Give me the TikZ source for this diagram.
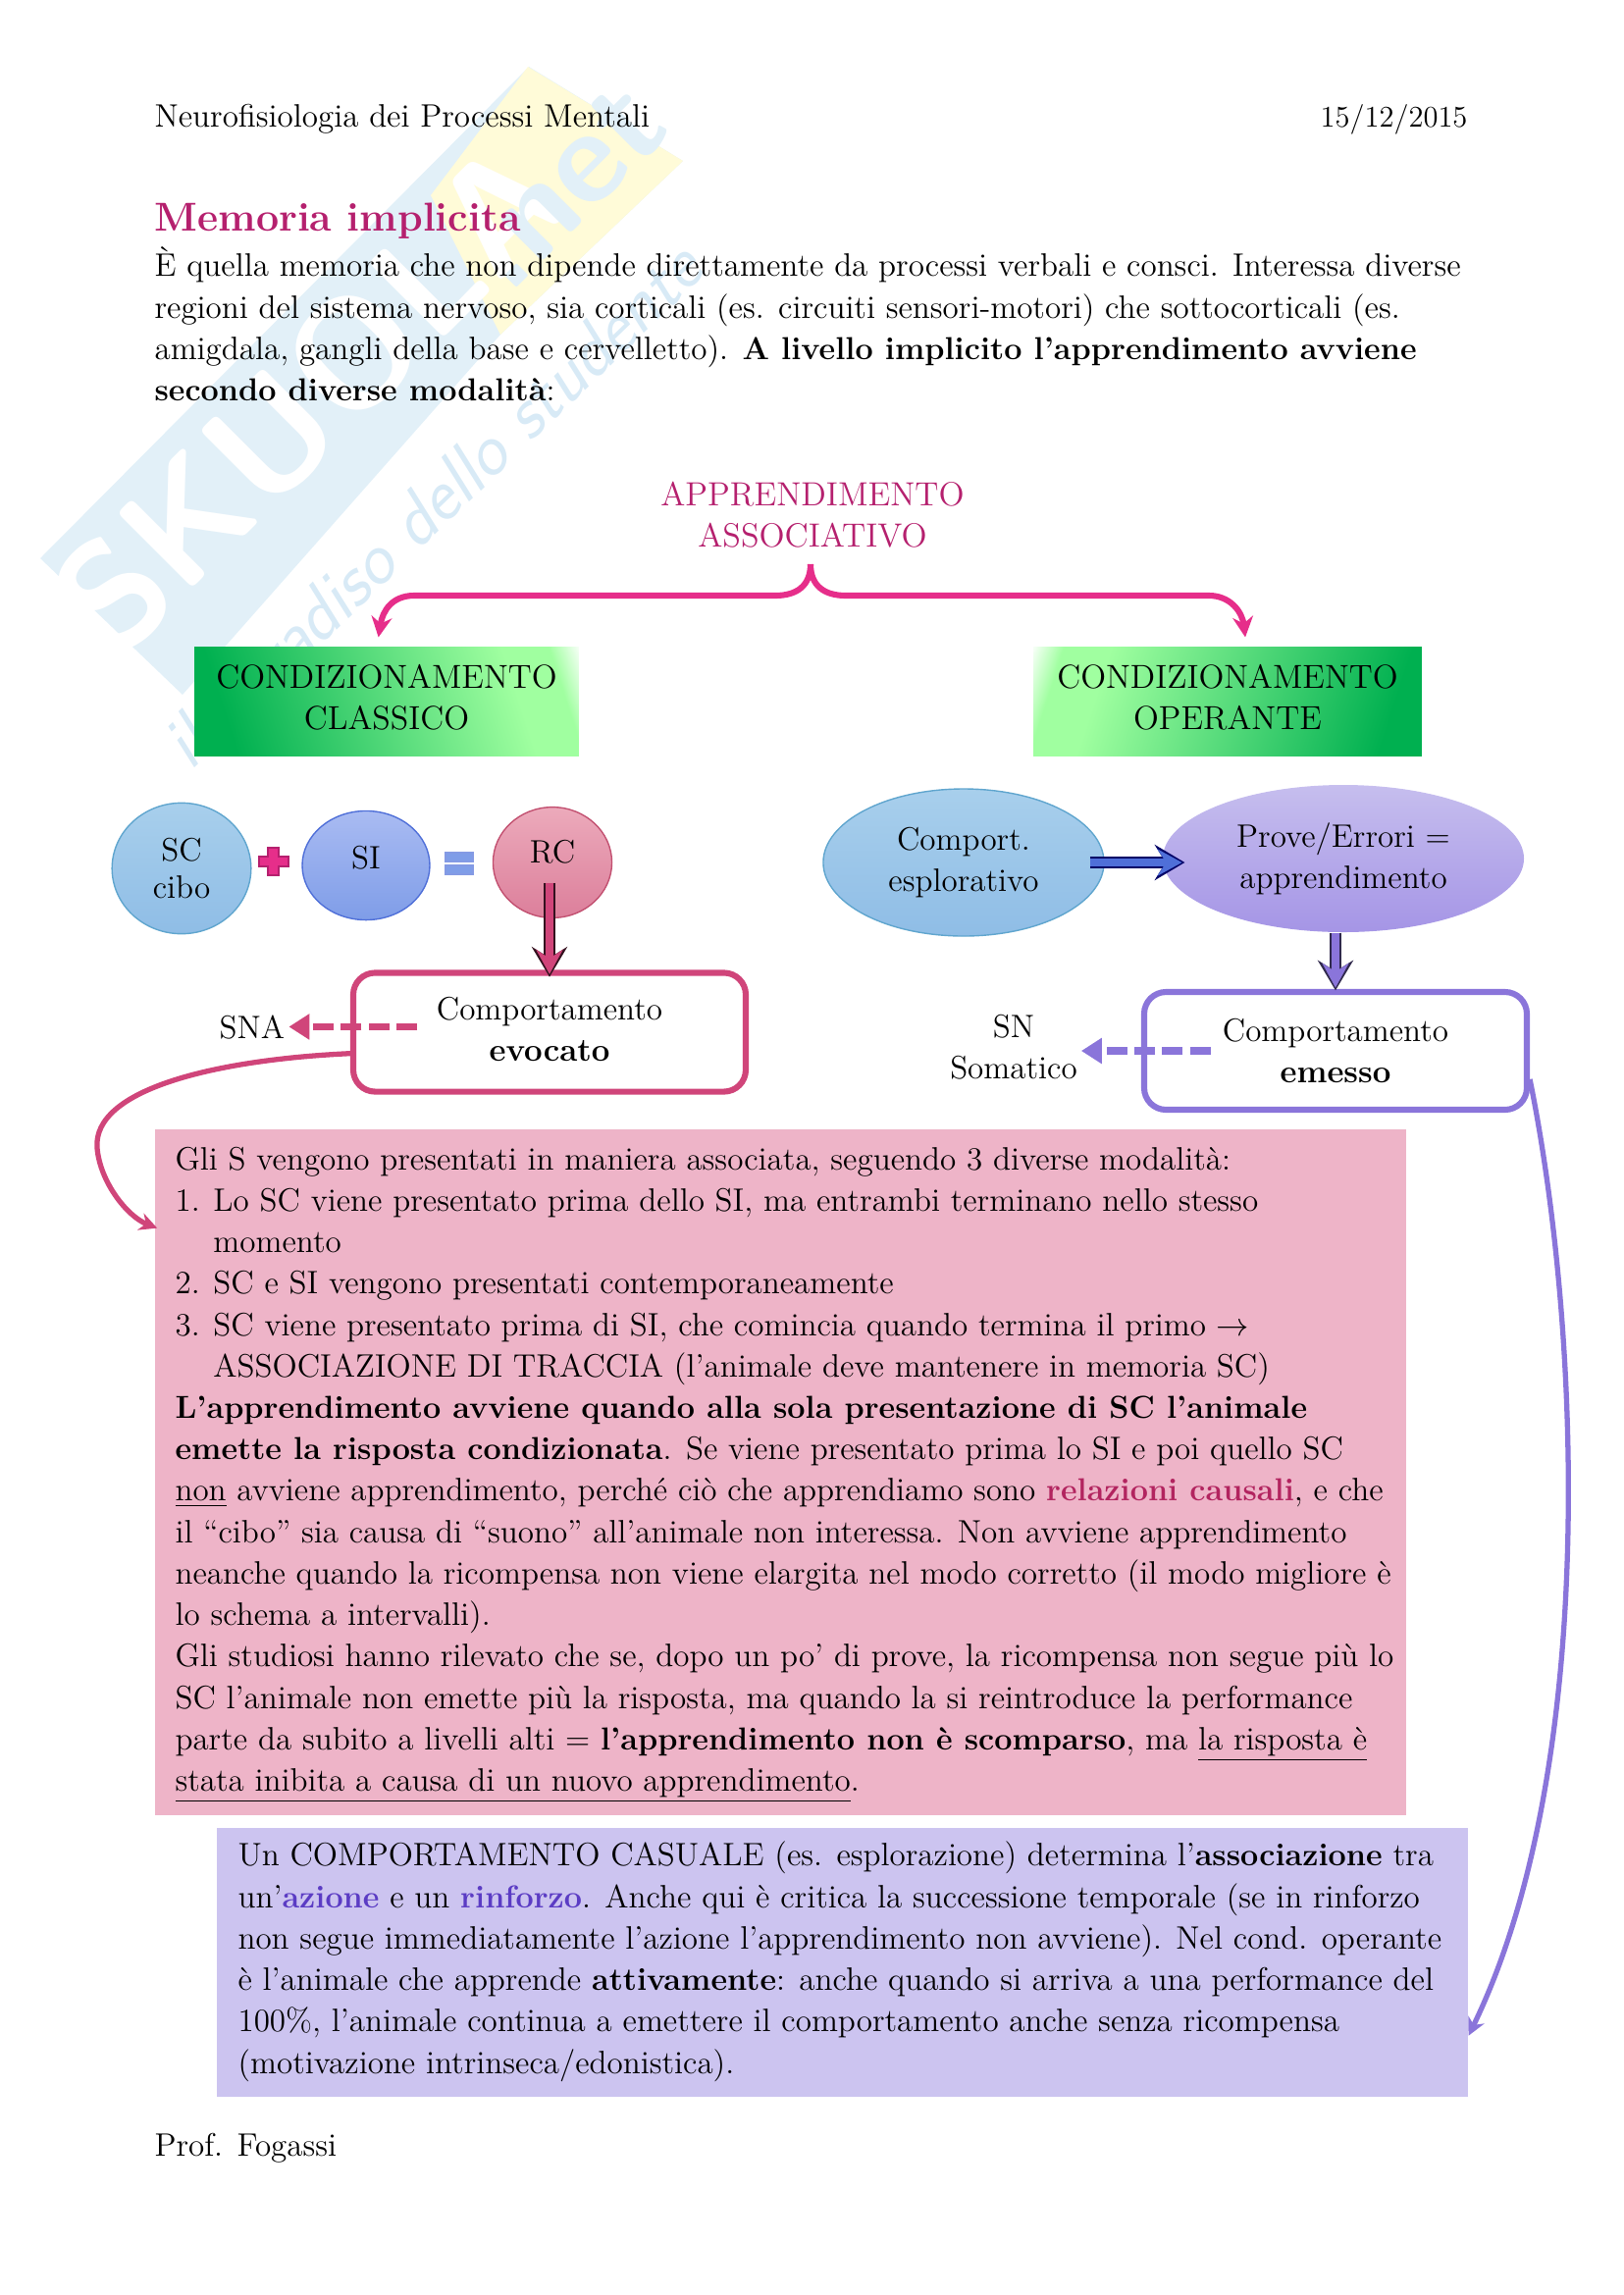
\documentclass[tikz,border=0pt]{standalone}
\usetikzlibrary{arrows.meta,shapes.geometric}

\definecolor{magtxt}{HTML}{B5206E}
\definecolor{bracecol}{HTML}{E62E8A}
\definecolor{rosecol}{HTML}{D0457A}
\definecolor{violetcol}{HTML}{8A75DA}
\definecolor{pinkfill}{HTML}{EEB4C8}
\definecolor{lilacfill}{HTML}{CCC4F0}
\definecolor{causecol}{HTML}{B2245F}
\definecolor{rinfcol}{HTML}{5B3CC4}
\definecolor{wmblue}{HTML}{E2F0F8}
\definecolor{wmtag}{HTML}{D8EAF6}
\definecolor{wmyellow}{HTML}{FFFBD8}
\definecolor{gdark}{HTML}{00B050}
\definecolor{glight}{HTML}{A0FFA0}
\definecolor{skytop}{HTML}{A8CFEC}
\definecolor{skybot}{HTML}{8FBDE6}
\definecolor{skyline}{HTML}{5FA5CE}
\definecolor{sitop}{HTML}{A9BBF2}
\definecolor{sibot}{HTML}{7F9DE8}
\definecolor{siline}{HTML}{4F6FD8}
\definecolor{rctop}{HTML}{ECAABB}
\definecolor{rcbot}{HTML}{DC7F9B}
\definecolor{rcline}{HTML}{C25070}
\definecolor{provetop}{HTML}{C6BEEE}
\definecolor{provebot}{HTML}{A595E6}

\pgfdeclarehorizontalshading{greenfade}{100bp}{color(0bp)=(gdark); color(25bp)=(gdark); color(70bp)=(glight); color(77bp)=(glight); color(82bp)=(white); color(100bp)=(white)}
\pgfdeclarehorizontalshading{greenfaderev}{100bp}{color(0bp)=(white); color(18bp)=(white); color(23bp)=(glight); color(30bp)=(glight); color(75bp)=(gdark); color(100bp)=(gdark)}

\newcommand{\bodyfont}{\fontsize{11.9}{15.2}\selectfont}
\newcommand{\bt}[1]{{\fontsize{11.65}{15.2}\selectfont\bfseries #1}}

\begin{document}
\begin{tikzpicture}[
  x=0.36pt, y=-0.36pt,
  every node/.style={font=\bodyfont},
  line/.style={anchor=base west, inner sep=0pt},
  block/.style={anchor=base west, inner sep=0pt, align=left},
  greenbox/.style={rectangle, inner sep=0pt, align=center, font=\fontsize{12.2}{15.2}\selectfont, text depth=3.2pt, minimum width=141pt, minimum height=39.8pt},
  blob/.style={ellipse, inner sep=0pt, align=center, line width=0.5pt},
  outcome/.style={rectangle, rounded corners=8pt, line width=2.2pt, fill=white, align=center, inner sep=0pt},
  bracearr/.style={draw=bracecol, line width=2.2pt, -{Stealth[length=7.5pt,width=7.5pt]}},
  dasharr/.style={line width=2.6pt, dash pattern=on 7.6pt off 2.6pt, -{Triangle[length=7.5pt,width=9pt]}},
  curvearr/.style={line width=1.9pt, -{Stealth[length=6.5pt,width=6.5pt]}},
  blockout/.style={line width=4.4pt, -{Stealth[length=11pt,width=13pt,inset=4pt]}},
  blockin/.style={line width=2.8pt, shorten >=1pt, -{Stealth[length=9pt,width=9.8pt,inset=3.2pt]}}
]
\useasboundingbox (0,0) rectangle (1654,2339);

% watermark
\fill[wmblue] (41,569) -- (539,68) -- (696,164) -- (510,341) -- (186,708) -- cycle;
\fill[wmyellow] (538,68) -- (696,164) -- (510,341) -- (439,199) -- cycle;
\node[rotate=45, text=white, inner sep=0pt] (wmname) at (315,405) {\fontsize{56}{56}\selectfont\sffamily\bfseries SKUOLA};
\node[rotate=45, text=wmblue, inner sep=0pt] (wmnet) at (575,190) {\fontsize{48}{48}\selectfont\sffamily\bfseries .net};
\node[rotate=44, text=wmtag, inner sep=0pt] (wmlabel) at (444,519) {\fontsize{27}{27}\selectfont\sffamily\itshape il paradiso dello studente};

% page text
\node[line] (head) at (157,129) {Neurofisiologia dei Processi Mentali};
\node[line, anchor=base east] (date) at (1496,129) {\fontsize{11}{15.2}\selectfont 15/12/2015};
\node[line, text=magtxt] (title) at (157,235) {\fontsize{14.8}{16}\selectfont\bfseries Memoria implicita};
\node[block] (intro) at (157,408.5) {È quella memoria che non dipende direttamente da processi verbali e consci. Interessa diverse\\
regioni del sistema nervoso, sia corticali (es. circuiti sensori-motori) che sottocorticali (es.\\
amigdala, gangli della base e cervelletto). \bt{A livello implicito l’apprendimento avviene}\\
\bt{secondo diverse modalità}:};
\node[line] (prof) at (157,2197) {Prof. Fogassi};

% top of the scheme
\node[align=center, text=magtxt, inner sep=0pt, font=\fontsize{12.3}{15.2}\selectfont] (appr) at (828,525) {APPRENDIMENTO\\ASSOCIATIVO};
\node[greenbox, shading=greenfade, shading angle=18] (classico) at (394,715) {CONDIZIONAMENTO\\CLASSICO};
\node[greenbox, shading=greenfaderev, shading angle=-18, minimum width=142.5pt] (operante) at (1251,715) {CONDIZIONAMENTO\\OPERANTE};
\coordinate (cusp) at (826,575);
\draw[bracearr] (cusp) .. controls (826,597) and (812,607) .. (790,607) -- (422,607) .. controls (400,607) and (390,622) .. ([xshift=-3pt,yshift=3.5pt]classico.north);
\draw[bracearr] (cusp) .. controls (826,597) and (840,607) .. (862,607) -- (1232,607) .. controls (1254,607) and (1266,624) .. ([xshift=6.5pt,yshift=3.5pt]operante.north);

% left branch
\node[blob, draw=skyline, top color=skytop, bottom color=skybot, minimum width=51pt, minimum height=48pt] (sc) at (185,885) {SC\\[-1.6pt]cibo};
\node[blob, draw=siline, top color=sitop, bottom color=sibot, text depth=6pt, minimum width=46.8pt, minimum height=40pt] (si) at (373,882) {SI};
\node[blob, draw=rcline, top color=rctop, bottom color=rcbot, text depth=8pt, minimum width=43.6pt, minimum height=40.6pt] (rc) at (563,879) {RC};
\fill[draw=magtxt, fill=bracecol] (273,864) -- (284,864) -- (284,873) -- (294,873) -- (294,883) -- (284,883) -- (284,892) -- (273,892) -- (273,883) -- (264,883) -- (264,873) -- (273,873) -- cycle;
\draw[draw=siline!70!white, fill=sibot] (454,869) rectangle (482,878);
\draw[draw=siline!70!white, fill=sibot] (454,882) rectangle (482,891);
\node[outcome, draw=rosecol, text depth=2.2pt, minimum width=144pt, minimum height=43.6pt] (evocato) at (560,1052) {Comportamento\\\textbf{evocato}};
\node[inner sep=1.3pt] (sna) at (257,1047) {SNA};
\draw[blockout, black!75!rosecol] ([yshift=-7.5pt]evocato.north |- rc.center) -- ([yshift=-2.6pt]evocato.north);
\draw[blockin, rosecol] ([yshift=-7.5pt]evocato.north |- rc.center) -- ([yshift=-2.6pt]evocato.north);
\coordinate (snastart) at ([shift={(24.5pt,2pt)}]evocato.west);
\draw[dasharr, rosecol] (snastart) -- (sna.east |- snastart);

% right branch
\node[blob, draw=skyline, top color=skytop, bottom color=skybot, minimum width=103pt, minimum height=54pt] (comport) at (982,879) {Comport.\\esplorativo};
\node[blob, top color=provetop, bottom color=provebot, minimum width=132.5pt, minimum height=54pt] (prove) at (1369,875) {Prove/Errori =\\apprendimento};
\node[outcome, draw=violetcol, minimum width=140.4pt, minimum height=43.2pt] (emesso) at (1361,1071) {Comportamento\\\textbf{emesso}};
\node[inner sep=1.3pt, align=center] (snsom) at (1033,1067) {SN\\Somatico};
\draw[blockout, blue!40!black] ([xshift=-5.4pt]comport.east) -- ([xshift=8.3pt]prove.west |- comport.east);
\draw[blockin, siline] ([xshift=-5.4pt]comport.east) -- ([xshift=8.3pt]prove.west |- comport.east);
\draw[blockout, violetcol!35!black] (emesso.north |- prove.south) -- ([yshift=-0.5pt]emesso.north);
\draw[blockin, violetcol] (emesso.north |- prove.south) -- ([yshift=-0.5pt]emesso.north);
\draw[dasharr, violetcol] ([xshift=25.5pt]emesso.west) -- (snsom.east |- emesso.west);

% text boxes
\node[rectangle, fill=pinkfill, inner sep=0pt, minimum width=459pt, minimum height=251.6pt] (pinkbox) at (795.5,1500.5) {};
\node[rectangle, fill=lilacfill, inner sep=0pt, minimum width=459pt, minimum height=98.8pt] (lilacbox) at (858.5,2000) {};
\node[block] (pinktxt) at (178,1825.5) {Gli S vengono presentati in maniera associata, seguendo 3 diverse modalità:\\
\makebox[14pt][l]{1.}Lo SC viene presentato prima dello SI, ma entrambi terminano nello stesso\\
\hspace*{14pt}momento\\
\makebox[14pt][l]{2.}SC e SI vengono presentati contemporaneamente\\
\makebox[14pt][l]{3.}SC viene presentato prima di SI, che comincia quando termina il primo $\rightarrow$\\
\hspace*{14pt}ASSOCIAZIONE DI TRACCIA (l’animale deve mantenere in memoria SC)\\
\bt{L’apprendimento avviene quando alla sola presentazione di SC l’animale}\\
\bt{emette la risposta condizionata}. Se viene presentato prima lo SI e poi quello SC\\
\underline{non} avviene apprendimento, perché ciò che apprendiamo sono \textcolor{causecol}{\bt{relazioni causali}}, e che\\
il “cibo” sia causa di “suono” all’animale non interessa. Non avviene apprendimento\\
neanche quando la ricompensa non viene elargita nel modo corretto (il modo migliore è\\
lo schema a intervalli).\\
Gli studiosi hanno rilevato che se, dopo un po’ di prove, la ricompensa non segue più lo\\
SC l’animale non emette più la risposta, ma quando la si reintroduce la performance\\
parte da subito a livelli alti = \bt{l’apprendimento non è scomparso}, ma \underline{la risposta è}\\
\underline{stata inibita a causa di un nuovo apprendimento}.};
\node[block] (lilactxt) at (242,2113) {Un COMPORTAMENTO CASUALE (es. esplorazione) determina l’\bt{associazione} tra\\
un’\textcolor{rinfcol}{\bt{azione}} e un \textcolor{rinfcol}{\bt{rinforzo}}. Anche qui è critica la successione temporale (se in rinforzo\\
non segue immediatamente l’azione l’apprendimento non avviene). Nel cond. operante\\
è l’animale che apprende \bt{attivamente}: anche quando si arriva a una performance del\\
100\%, l’animale continua a emettere il comportamento anche senza ricompensa\\
(motivazione intrinseca/edonistica).};

% long connectors
\draw[curvearr, rosecol] ([yshift=-7.8pt]evocato.west) .. controls (220,1080) and (94,1110) .. (99,1170) .. controls (102,1205) and (130,1240) .. ([shift={(1pt,-36.4pt)}]pinkbox.north west);
\draw[curvearr, violetcol] ([yshift=-10.4pt]emesso.east) .. controls (1610,1350) and (1630,1800) .. ([yshift=-76.5pt]lilacbox.north east);
\end{tikzpicture}
\end{document}
